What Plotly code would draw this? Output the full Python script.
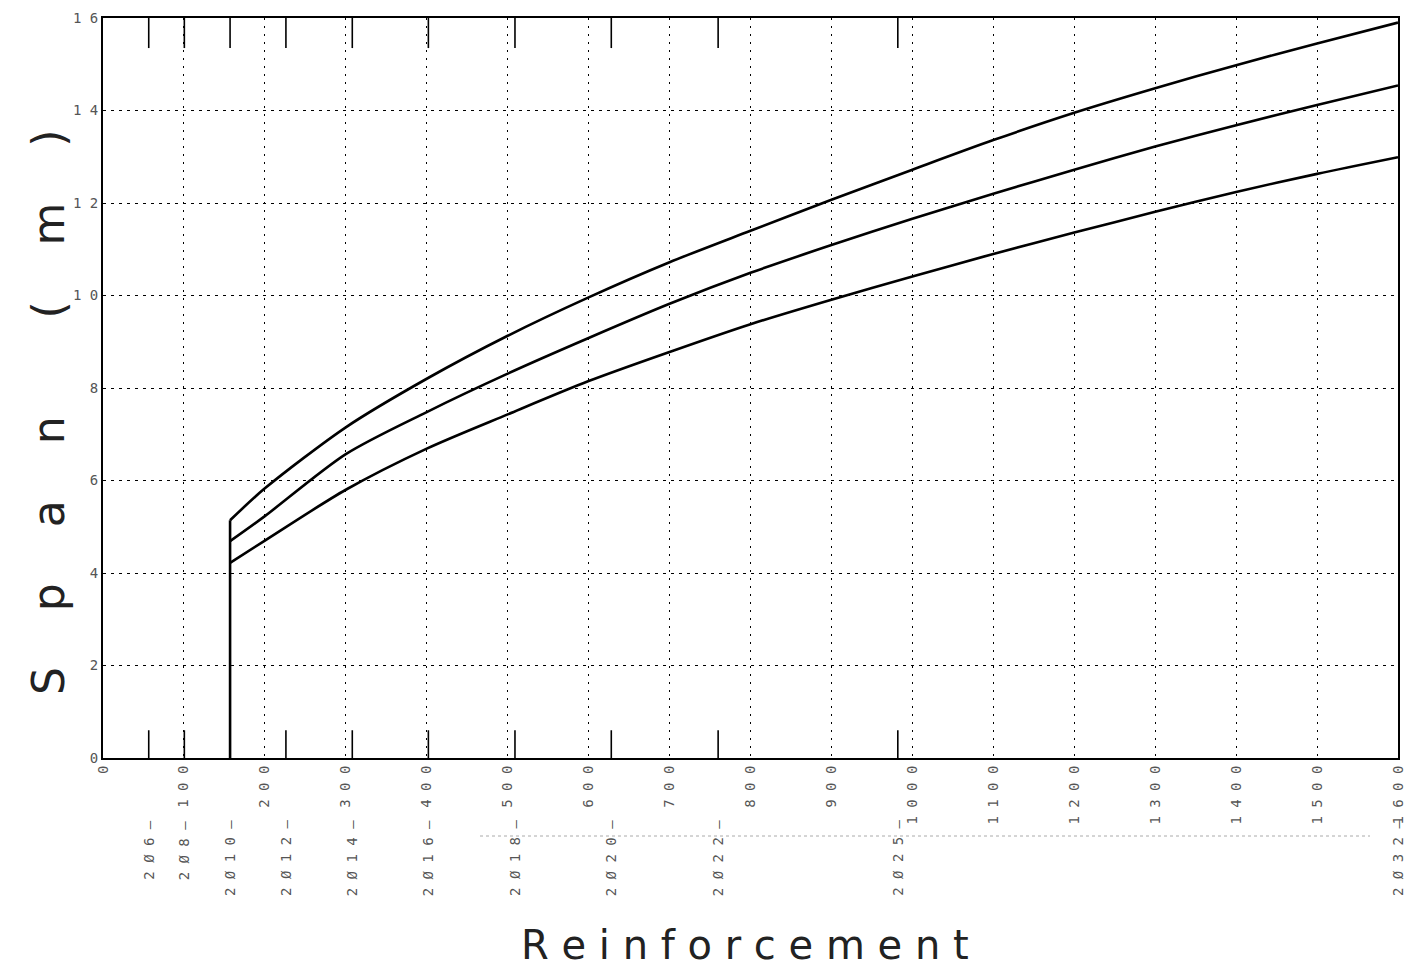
import plotly.graph_objects as go

# Reinforcement area (mm^2) sample points along the curves
as_x = [157, 200, 300, 400, 500, 600, 700, 800, 900, 1000, 1100, 1200, 1300, 1400, 1500, 1600]
# Span (m) for the three curves
span_top = [5.14, 5.83, 7.15, 8.20, 9.13, 9.96, 10.72, 11.40, 12.07, 12.72, 13.36, 13.95, 14.48, 14.98, 15.45, 15.90]
span_mid = [4.69, 5.23, 6.57, 7.48, 8.31, 9.08, 9.82, 10.49, 11.09, 11.66, 12.20, 12.72, 13.22, 13.68, 14.12, 14.54]
span_bot = [4.22, 4.70, 5.80, 6.69, 7.43, 8.15, 8.78, 9.38, 9.91, 10.41, 10.90, 11.36, 11.81, 12.24, 12.63, 12.99]

# Bar arrangements and their areas
bar_labels = ["2Ø6", "2Ø8", "2Ø10", "2Ø12", "2Ø14", "2Ø16", "2Ø18", "2Ø20", "2Ø22", "2Ø25", "2Ø32"]
bar_areas = [56.5, 100.5, 157, 226, 308, 402, 509, 628, 760, 982, 1608]

x_ticks = list(range(0, 1700, 100))
y_ticks = list(range(0, 18, 2))

OFF = 8  # page body margin
W, H = 1420, 967
ML, MR, MT, MB = 95, 30, 10, 217
PW, PH = W - ML - MR, H - MT - MB
X_MAX = 1600


def py_to_paper(py):
    # screen pixel y -> paper y
    return (OFF + H - MB - py) / PH


def px_to_paper(px):
    # screen pixel x -> paper x
    return (px - OFF - ML) / PW


fig = go.Figure()

curve_style = dict(color="black", width=2.6, shape="spline", smoothing=0.8)
for ys in (span_top, span_mid, span_bot):
    fig.add_trace(go.Scatter(x=as_x, y=ys, mode="lines", line=curve_style,
                             showlegend=False, hoverinfo="skip"))

# vertical start line at the minimum reinforcement
fig.add_trace(go.Scatter(x=[as_x[0], as_x[0]], y=[0, span_top[0]], mode="lines",
                         line=dict(color="black", width=2.6), showlegend=False, hoverinfo="skip"))

# short solid marks for each bar arrangement, at bottom and top
bx, by = [], []
for a in bar_areas:
    bx += [a, a, None, a, a, None]
    by += [0, 0.6, None, 16, 15.35, None]
fig.add_trace(go.Scatter(x=bx, y=by, mode="lines", line=dict(color="black", width=1.6),
                         showlegend=False, hoverinfo="skip"))

tick_font = dict(family="DejaVu Sans Mono", size=14, color="#555")

fig.update_xaxes(range=[0, X_MAX], tickvals=x_ticks,
                 ticktext=[" ".join(str(v)) for v in x_ticks],
                 tickangle=-90, tickfont=tick_font, ticks="", ticklen=0,
                 ticklabeloverflow="allow", automargin=False,
                 showgrid=True, gridcolor="black", gridwidth=1, griddash="2px,6px",
                 showline=True, linecolor="black", linewidth=2, mirror=True,
                 zeroline=False)
fig.update_yaxes(range=[0, 16], tickvals=y_ticks,
                 ticktext=[" ".join(str(v)) for v in y_ticks],
                 tickfont=tick_font, ticks="", ticklabeloverflow="allow", automargin=False,
                 showgrid=True, gridcolor="black", gridwidth=1, griddash="3px,5px",
                 showline=True, linecolor="black", linewidth=2, mirror=True,
                 zeroline=False)

annotations = []
for lab, a in zip(bar_labels, bar_areas):
    annotations.append(dict(x=min(a, X_MAX) / X_MAX, xref="paper",
                            y=py_to_paper(818), yref="paper",
                            text=" ".join(list(lab)) + " —", textangle=-90,
                            showarrow=False, xanchor="center", yanchor="top",
                            font=tick_font))

annotations.append(dict(x=px_to_paper(745), xref="paper", y=py_to_paper(945), yref="paper",
                        text=" ".join(list("Reinforcement")), showarrow=False,
                        xanchor="center", yanchor="middle",
                        font=dict(family="DejaVu Sans", size=40, color="#222")))

nb = "\u00a0"
gap = nb * 4
ytitle = gap.join(["S", "p", "a", "n"]) + nb * 7 + gap.join(["(", "m", ")"])
annotations.append(dict(x=px_to_paper(48), xref="paper", y=py_to_paper(412), yref="paper",
                        text=ytitle, textangle=-90, showarrow=False,
                        xanchor="center", yanchor="middle",
                        font=dict(family="DejaVu Sans", size=44, color="#222")))

fig.update_layout(
    width=W, height=H,
    margin=dict(l=ML, r=MR, t=MT, b=MB),
    paper_bgcolor="white", plot_bgcolor="white",
    annotations=annotations,
    shapes=[dict(type="line", xref="paper", yref="paper",
                 x0=px_to_paper(480), x1=px_to_paper(1370),
                 y0=py_to_paper(836), y1=py_to_paper(836),
                 line=dict(color="#aaa", width=1, dash="dot"))],
)

fig.write_html("out.html")
